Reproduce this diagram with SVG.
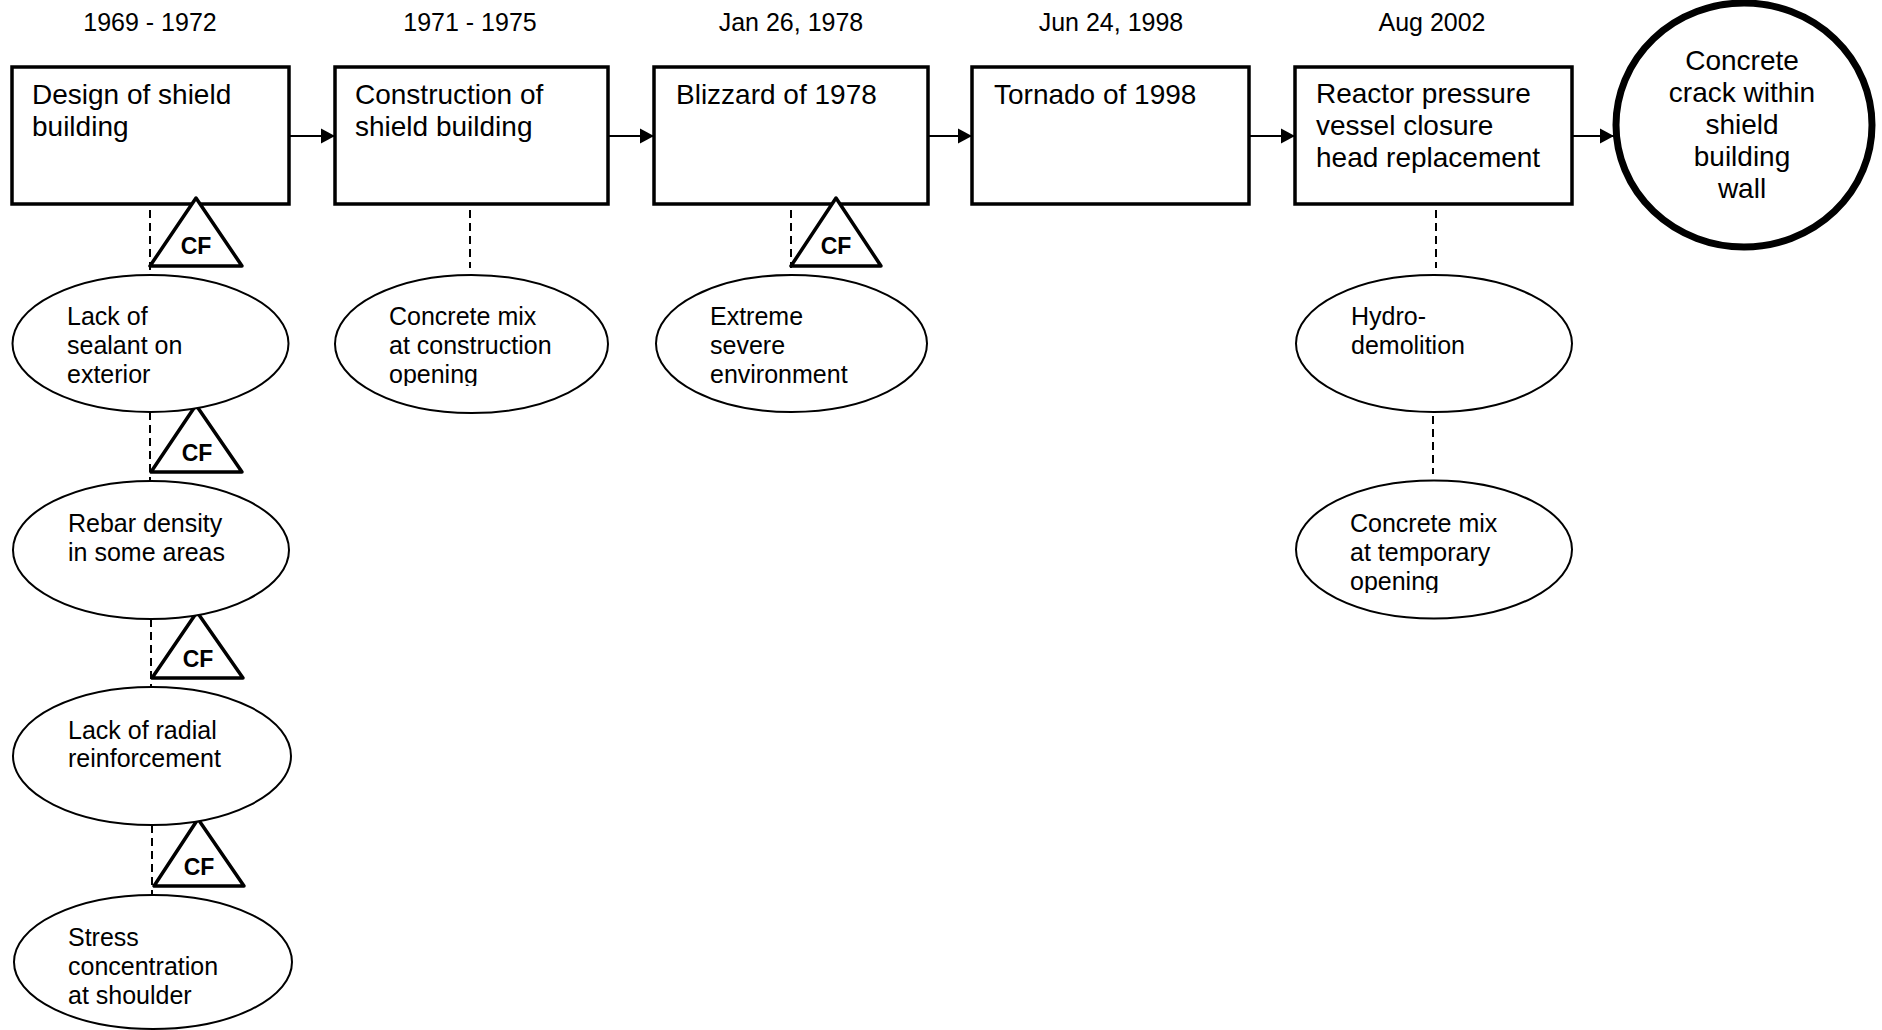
<svg xmlns="http://www.w3.org/2000/svg" width="1882" height="1030" viewBox="0 0 1882 1030">
<style>
text{font-family:"Liberation Sans",Arial,sans-serif;fill:#000}
.date{font-size:25px;text-anchor:middle}
.bt{font-size:28px}
.et{font-size:25px}
.cf{font-size:23px;font-weight:bold;text-anchor:middle}
.box{fill:#fff;stroke:#000;stroke-width:3.5}
.ell{fill:#fff;stroke:#000;stroke-width:2}
.tri{fill:#fff;stroke:#000;stroke-width:3.5;stroke-linejoin:round}
.dash{fill:none;stroke:#000;stroke-width:2;stroke-dasharray:8,5}
.arr{fill:none;stroke:#000;stroke-width:2;marker-end:url(#ah)}
</style>
<defs>
<marker id="ah" markerUnits="userSpaceOnUse" markerWidth="16" markerHeight="16" viewBox="0 0 16 16" refX="15" refY="8" orient="auto">
<path d="M1,0.5 L15,8 L1,15.5 Z" fill="#000"/>
</marker>
<clipPath id="clipA"><rect x="300" y="280" width="320" height="106"/></clipPath>
<clipPath id="clipB"><rect x="1290" y="485" width="300" height="108"/></clipPath>
</defs>

<g id="dates">
<text class="date" x="150" y="31">1969 - 1972</text>
<text class="date" x="470" y="31">1971 - 1975</text>
<text class="date" x="791" y="31">Jan 26, 1978</text>
<text class="date" x="1111" y="31">Jun 24, 1998</text>
<text class="date" x="1432" y="31">Aug 2002</text>
</g>

<g id="connectors">
<line class="arr" x1="289" y1="136" x2="335" y2="136"/>
<line class="arr" x1="608" y1="136" x2="654" y2="136"/>
<line class="arr" x1="928" y1="136" x2="972" y2="136"/>
<line class="arr" x1="1249" y1="136" x2="1295" y2="136"/>
<line class="arr" x1="1572" y1="136" x2="1614" y2="136"/>
<line class="dash" x1="150" y1="197" x2="150" y2="277"/>
<line class="dash" x1="150" y1="412" x2="150" y2="482"/>
<line class="dash" x1="151" y1="619" x2="151" y2="689"/>
<line class="dash" x1="152" y1="825" x2="152" y2="895"/>
<line class="dash" x1="470" y1="197" x2="470" y2="268"/>
<line class="dash" x1="791" y1="197" x2="791" y2="268"/>
<line class="dash" x1="1436" y1="197" x2="1436" y2="268"/>
<line class="dash" x1="1433" y1="403" x2="1433" y2="474"/>
</g>

<g id="box1"><rect class="box" x="12" y="67" width="277" height="137"/>
<text class="bt" x="32" y="104">Design of shield</text><text class="bt" x="32" y="136">building</text></g>
<g id="box2"><rect class="box" x="335" y="67" width="273" height="137"/>
<text class="bt" x="355" y="104">Construction of</text><text class="bt" x="355" y="136">shield building</text></g>
<g id="box3"><rect class="box" x="654" y="67" width="274" height="137"/>
<text class="bt" x="676" y="104">Blizzard of 1978</text></g>
<g id="box4"><rect class="box" x="972" y="67" width="277" height="137"/>
<text class="bt" x="994" y="104">Tornado of 1998</text></g>
<g id="box5"><rect class="box" x="1295" y="67" width="277" height="137"/>
<text class="bt" x="1316" y="103">Reactor pressure</text><text class="bt" x="1316" y="135">vessel closure</text><text class="bt" x="1316" y="167">head replacement</text></g>

<g id="outcome"><ellipse cx="1744" cy="125" rx="128" ry="122" fill="#fff" stroke="#000" stroke-width="7"/>
<text class="bt" x="1742" y="70" text-anchor="middle">Concrete</text>
<text class="bt" x="1742" y="102" text-anchor="middle">crack within</text>
<text class="bt" x="1742" y="134" text-anchor="middle">shield</text>
<text class="bt" x="1742" y="166" text-anchor="middle">building</text>
<text class="bt" x="1742" y="198" text-anchor="middle">wall</text></g>

<g id="cf1"><polygon class="tri" points="196,198 150,266 242,266"/><text class="cf" x="196" y="254">CF</text></g>
<g id="cf2"><polygon class="tri" points="196,405 151,472 242,472"/><text class="cf" x="197" y="461">CF</text></g>
<g id="cf3"><polygon class="tri" points="197,612 152,678 243,678"/><text class="cf" x="198" y="667">CF</text></g>
<g id="cf4"><polygon class="tri" points="198,819 154,886 244,886"/><text class="cf" x="199" y="875">CF</text></g>
<g id="cf5"><polygon class="tri" points="836,198 791,266 881,266"/><text class="cf" x="836" y="254">CF</text></g>

<g id="e1"><ellipse class="ell" cx="150.5" cy="343.5" rx="138" ry="68.5"/>
<text class="et" x="67" y="325">Lack of</text><text class="et" x="67" y="354">sealant on</text><text class="et" x="67" y="383">exterior</text></g>
<g id="e2"><ellipse class="ell" cx="471.5" cy="344" rx="136.5" ry="69"/>
<g clip-path="url(#clipA)"><text class="et" x="389" y="325">Concrete mix</text><text class="et" x="389" y="354">at construction</text><text class="et" x="389" y="383">opening</text></g></g>
<g id="e3"><ellipse class="ell" cx="791.5" cy="343.5" rx="135.5" ry="68.5"/>
<text class="et" x="710" y="325">Extreme</text><text class="et" x="710" y="354">severe</text><text class="et" x="710" y="383">environment</text></g>
<g id="e4"><ellipse class="ell" cx="1434" cy="343.5" rx="138" ry="68.5"/>
<text class="et" x="1351" y="325">Hydro-</text><text class="et" x="1351" y="354">demolition</text></g>
<g id="e5"><ellipse class="ell" cx="1434" cy="549.5" rx="138" ry="69"/>
<g clip-path="url(#clipB)"><text class="et" x="1350" y="532">Concrete mix</text><text class="et" x="1350" y="561">at temporary</text><text class="et" x="1350" y="590">opening</text></g></g>
<g id="e6"><ellipse class="ell" cx="151" cy="550" rx="138" ry="69"/>
<text class="et" x="68" y="532">Rebar density</text><text class="et" x="68" y="561">in some areas</text></g>
<g id="e7"><ellipse class="ell" cx="152" cy="756" rx="139" ry="69"/>
<text class="et" x="68" y="739">Lack of radial</text><text class="et" x="68" y="767">reinforcement</text></g>
<g id="e8"><ellipse class="ell" cx="153" cy="962" rx="139" ry="67"/>
<text class="et" x="68" y="946">Stress</text><text class="et" x="68" y="975">concentration</text><text class="et" x="68" y="1004">at shoulder</text></g>
</svg>
